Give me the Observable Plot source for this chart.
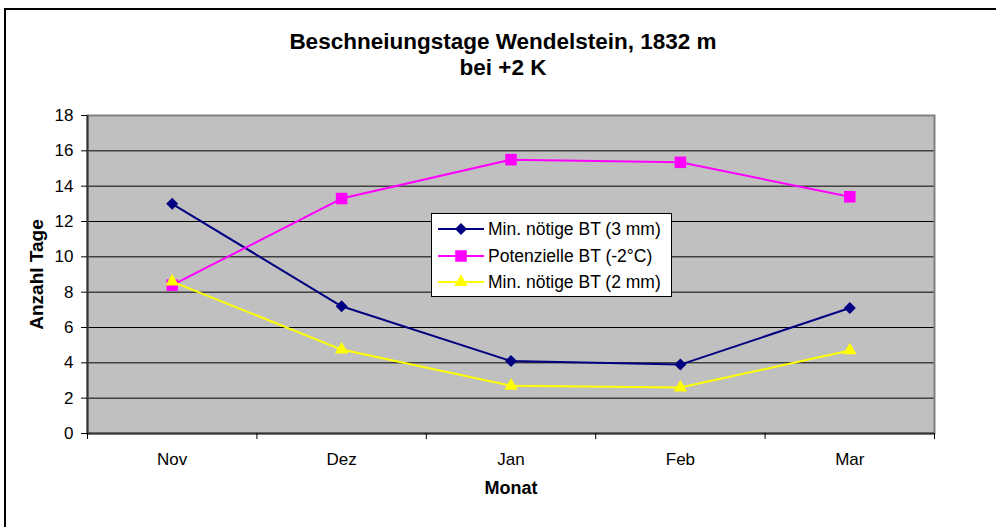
<!DOCTYPE html>
<html>
<head>
<meta charset="utf-8">
<script src="https://cdn.jsdelivr.net/npm/d3@7"></script>
<script src="https://cdn.jsdelivr.net/npm/@observablehq/plot@0.6"></script>
<style>
  html, body { margin: 0; padding: 0; background: #fff; }
  body { width: 996px; height: 527px; overflow: hidden; position: relative; font-family: "Liberation Sans", Arial, sans-serif; }
  #frame { position: absolute; left: 4px; top: 8px; width: 1000px; height: 540px; border-top: 2px solid #000; border-left: 2px solid #000; }
  #title { position: absolute; left: 10px; width: 986px; top: 29px; text-align: center; font-weight: bold; font-size: 22.5px; line-height: 26px; color: #000; }
  #chart { position: absolute; left: 0; top: 0; }
  #legend { position: absolute; left: 431px; top: 213px; width: 239px; height: 82px; border: 1px solid #000; background: #fff; font-size: 17.5px; }
  .row { position: absolute; left: 0; height: 20px; display: flex; align-items: center; }
  .row svg { display: block; }
  .row span { margin-left: 3px; white-space: nowrap; }
</style>
</head>
<body>
<div id="chart"></div>
<div id="frame"></div>
<div id="title">Beschneiungstage Wendelstein, 1832 m<br>bei +2 K</div>
<div id="legend"></div>
<script>
// ---- data ----
const months = ["Nov", "Dez", "Jan", "Feb", "Mar"];
const seriesNames = ["Min. nötige BT (3 mm)", "Potenzielle BT (-2°C)", "Min. nötige BT (2 mm)"];
const minBT3 = [13.0, 7.2, 4.1, 3.9, 7.1];
const potBT = [8.4, 13.3, 15.5, 15.35, 13.4];
const minBT2 = [8.6, 4.75, 2.7, 2.6, 4.7];
const yTicks = [0, 2, 4, 6, 8, 10, 12, 14, 16, 18];
const colors = ["#000080", "#FF00FF", "#FFFF00"];
const symbols = ["diamond2", "square", "triangle"];
const xTitle = "Monat";
const yTitle = "Anzahl Tage";

const seriesValues = [minBT3, potBT, minBT2];
const idx = months.map((m, i) => i);
const boundaries = [-0.5, ...idx.map(i => i + 0.5)];
const rows = [];
seriesValues.forEach((vals, s) => vals.forEach((v, i) => rows.push({i, month: months[i], s, series: seriesNames[s], value: v})));

const markR = [5.4, 6.5, 5.0];

const marks = [
  Plot.frame({fill: "#C0C0C0"}),
  Plot.gridY(yTicks, {stroke: "#000", strokeOpacity: 1, strokeWidth: 1}),
  Plot.frame({stroke: "#808080", strokeWidth: 2}),
  Plot.ruleX([-0.5], {stroke: "#333", strokeWidth: 2}),
  Plot.ruleY([0], {stroke: "#333", strokeWidth: 2}),
  Plot.axisY({ticks: yTicks, tickSize: 6, tickPadding: 8, label: null, fontSize: 17}),
  Plot.axisX({ticks: idx, tickSize: 0, tickPadding: 19, tickFormat: i => months[i], label: null, fontSize: 17}),
  Plot.axisX({ticks: boundaries, tickSize: 6, tickFormat: () => "", label: null}),
  Plot.text([xTitle], {frameAnchor: "bottom", dy: 60, fontWeight: "bold", fontSize: 18}),
  Plot.text([yTitle], {frameAnchor: "left", textAnchor: "middle", rotate: -90, dx: -51, fontWeight: "bold", fontSize: 19})
];
seriesValues.forEach((vals, s) => {
  const data = rows.filter(d => d.s === s);
  marks.push(Plot.line(data, {x: "i", y: "value", stroke: colors[s], strokeWidth: 2}));
  marks.push(Plot.dot(data, {x: "i", y: "value", symbol: () => symbols[s], fill: colors[s], stroke: "none", r: markR[s]}));
});

const chart = Plot.plot({
  width: 996,
  height: 527,
  marginLeft: 87,
  marginRight: 62,
  marginTop: 115,
  marginBottom: 94,
  style: {background: "transparent", fontFamily: "'Liberation Sans', Arial, sans-serif", color: "#000"},
  x: {type: "linear", domain: [-0.5, 4.5]},
  y: {type: "linear", domain: [0, 18]},
  symbol: {type: "identity"},
  marks
});
document.getElementById("chart").appendChild(chart);

// ---- legend ----
const legend = document.getElementById("legend");
const rowTops = [5, 32, 58];
const symMap = {diamond2: d3.symbolDiamond2, square: d3.symbolSquare, triangle: d3.symbolTriangle};
seriesNames.forEach((name, s) => {
  const row = document.createElement("div");
  row.className = "row";
  row.style.top = rowTops[s] + "px";
  row.style.left = "5px";
  const svg = d3.create("svg").attr("width", 48).attr("height", 20);
  svg.append("line").attr("x1", 1).attr("x2", 47).attr("y1", 10).attr("y2", 10).attr("stroke", colors[s]).attr("stroke-width", 2);
  svg.append("path")
    .attr("transform", "translate(24,10)")
    .attr("d", d3.symbol(symMap[symbols[s]], Math.PI * markR[s] * markR[s])())
    .attr("fill", colors[s]);
  row.appendChild(svg.node());
  const t = document.createElement("span");
  t.textContent = name;
  row.appendChild(t);
  legend.appendChild(row);
});
</script>
</body>
</html>
